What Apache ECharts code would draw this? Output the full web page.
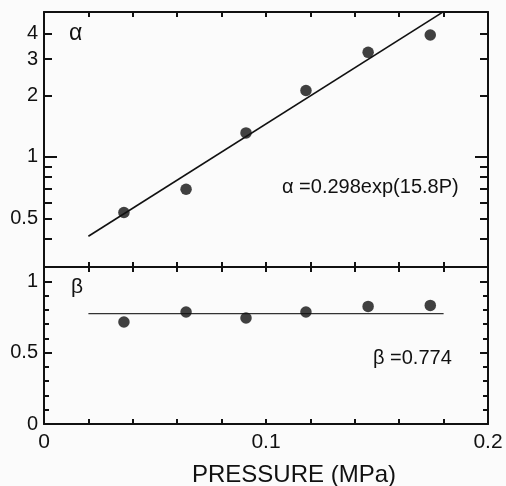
<!DOCTYPE html>
<html><head><meta charset="utf-8">
<script src="https://cdn.jsdelivr.net/npm/echarts@6/dist/echarts.min.js"></script>
<style>html,body{margin:0;padding:0;background:#fbfbfb}#c{width:506px;height:486px}</style>
</head><body><div id="c"></div>
<script>
// ---- data ----
const pressure = [0.036, 0.064, 0.091, 0.118, 0.146, 0.174];
const alphaValues = [0.535, 0.695, 1.31, 2.11, 3.24, 3.94];
const betaValues = [0.715, 0.785, 0.743, 0.785, 0.824, 0.831];
const alphaFitP = [0.02, 0.18];
const alphaFitValues = [0.41, 5.12];
const betaFitP = [0.02, 0.18];
const betaFitValues = [0.774, 0.774];
const xTickLabels = [0, 0.1, 0.2];
const alphaTickLabels = [0.5, 1, 2, 3, 4];
const alphaMinorTicks = [0.4, 0.5, 0.6, 0.7, 0.8, 0.9, 2, 3, 4];
const alphaMajorTicks = [1];
const alphaRange = [0.29, 5.1];
const betaTickLabels = [0, 0.5, 1];
const betaMinorTicks = [0.1, 0.2, 0.3, 0.4, 0.6, 0.7, 0.8, 0.9];
const betaRange = [0, 1.1];
const alphaEq = 'α =0.298exp(15.8P)';
const betaEq = 'β =0.774';
const xTitle = 'PRESSURE (MPa)';

const INK = '#111111';
const FONT = '"Liberation Sans", Arial, Helvetica, sans-serif';

function xAx(grid, pos, withLabels) {
  return {
    type: 'value', gridIndex: grid, position: pos, min: 0, max: 0.2, interval: 0.02,
    axisLine: { onZero: false, lineStyle: { color: INK, width: 2 } },
    axisTick: { inside: true, length: 5, lineStyle: { color: INK, width: 2 } },
    axisLabel: withLabels ? {
      customValues: xTickLabels, formatter: v => String(+(+v).toFixed(2)),
      fontSize: 21, color: INK, margin: 8, fontFamily: FONT
    } : { show: false },
    splitLine: { show: false }
  };
}
function yAx(grid, pos, range, ticks, len, showLine, labels, fmt) {
  return {
    type: 'value', gridIndex: grid, position: pos, min: range[0], max: range[1],
    axisLine: { show: showLine, onZero: false, lineStyle: { color: INK, width: 2 } },
    axisTick: { show: true, inside: true, length: len, customValues: ticks, lineStyle: { color: INK, width: 2 } },
    axisLabel: labels ? {
      customValues: labels, formatter: fmt, fontSize: 20, color: INK, margin: 6, fontFamily: FONT
    } : { show: false },
    splitLine: { show: false }
  };
}
const lg = a => a.map(v => Math.log10(v));
const logRange = lg(alphaRange);
const alphaFmt = v => String(+Math.pow(10, v).toPrecision(2));
const betaFmt = v => String(+(+v).toFixed(1));

const chart = echarts.init(document.getElementById('c'), null, { renderer: 'canvas' });
chart.setOption({
  animation: false,
  backgroundColor: '#fbfbfb',
  grid: [
    { left: 44, right: 18, top: 12, height: 255 },
    { left: 44, right: 18, top: 267, height: 157 }
  ],
  xAxis: [
    xAx(0, 'bottom', false),
    xAx(0, 'top', false),
    xAx(1, 'top', false),
    xAx(1, 'bottom', true)
  ],
  yAxis: [
    { type: 'log', logBase: 10, gridIndex: 0, position: 'left', min: alphaRange[0], max: alphaRange[1], show: false, axisLine: { onZero: false }, splitLine: { show: false } },
    yAx(0, 'left', logRange, lg(alphaMinorTicks), 8, true, lg(alphaTickLabels), alphaFmt),
    yAx(0, 'right', logRange, lg(alphaMinorTicks), 8, true, null),
    yAx(0, 'left', logRange, lg(alphaMajorTicks), 13, false, null),
    yAx(0, 'right', logRange, lg(alphaMajorTicks), 13, false, null),
    yAx(1, 'left', betaRange, betaTickLabels, 8, true, betaTickLabels, betaFmt),
    yAx(1, 'right', betaRange, betaTickLabels, 8, true, null),
    yAx(1, 'left', betaRange, betaMinorTicks, 5, false, null),
    yAx(1, 'right', betaRange, betaMinorTicks, 5, false, null)
  ],
  series: [
    { type: 'line', xAxisIndex: 0, yAxisIndex: 0, data: alphaFitP.map((p, i) => [p, alphaFitValues[i]]),
      symbol: 'none', lineStyle: { color: INK, width: 1.6 }, clip: true, silent: true, z: 2 },
    { type: 'scatter', xAxisIndex: 0, yAxisIndex: 0, data: pressure.map((p, i) => [p, alphaValues[i]]),
      symbolSize: 11.5, itemStyle: { color: INK }, silent: true, z: 3 },
    { type: 'line', xAxisIndex: 3, yAxisIndex: 5, data: betaFitP.map((p, i) => [p, betaFitValues[i]]),
      symbol: 'none', lineStyle: { color: '#333', width: 1.3 }, clip: true, silent: true, z: 2 },
    { type: 'scatter', xAxisIndex: 3, yAxisIndex: 5, data: pressure.map((p, i) => [p, betaValues[i]]),
      symbolSize: 11.5, itemStyle: { color: INK }, silent: true, z: 3 }
  ],
  graphic: [
    { type: 'text', x: 69, y: 34, style: { text: 'α', fontSize: 23, fontFamily: FONT, fill: INK, textAlign: 'left', textVerticalAlign: 'middle' } },
    { type: 'text', x: 71, y: 287, style: { text: 'β', fontSize: 21, fontFamily: FONT, fill: INK, textAlign: 'left', textVerticalAlign: 'middle' } },
    { type: 'text', x: 282, y: 187, style: { text: alphaEq, fontSize: 20, fontFamily: FONT, fill: INK, textAlign: 'left', textVerticalAlign: 'middle' } },
    { type: 'text', x: 373, y: 358, style: { text: betaEq, fontSize: 20, fontFamily: FONT, fill: INK, textAlign: 'left', textVerticalAlign: 'middle' } },
    { type: 'text', x: 192, y: 475, style: { text: xTitle, fontSize: 24, fontFamily: FONT, fill: INK, textAlign: 'left', textVerticalAlign: 'middle' } }
  ]
});
</script>
</body></html>
